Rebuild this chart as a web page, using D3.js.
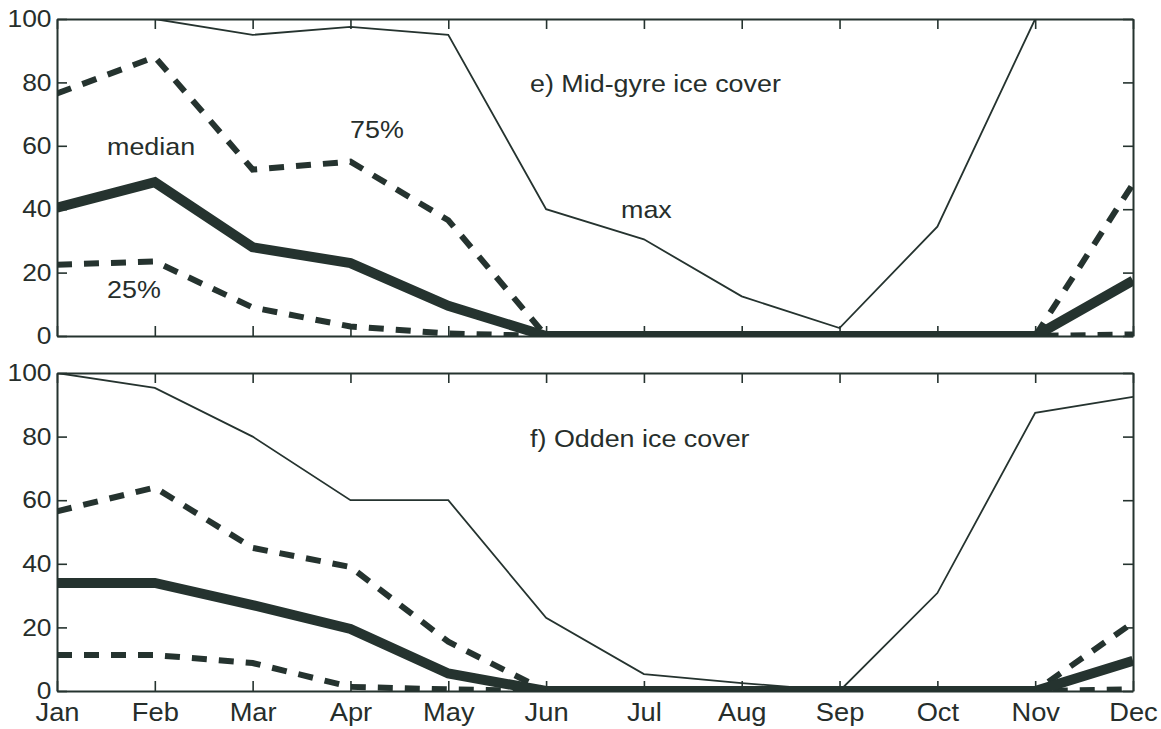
<!DOCTYPE html>
<html>
<head>
<meta charset="utf-8">
<script src="https://cdn.jsdelivr.net/npm/d3@7"></script>
<style>
  html, body { margin: 0; padding: 0; background: #fff; }
  svg { display: block; }
  text { font-family: "Liberation Sans", Arial, Helvetica, sans-serif; fill: #262e2b; }
</style>
</head>
<body>
<svg id="chart" width="1161" height="729"></svg>
<script>
// Month categories along the x axis
const months = ["Jan", "Feb", "Mar", "Apr", "May", "Jun", "Jul", "Aug", "Sep", "Oct", "Nov", "Dec"];
const yTicks = [0, 20, 40, 60, 80, 100];

// e) Mid-gyre ice cover (%)
const midGyreMax    = [100, 100, 95, 97.5, 95, 40, 30.5, 12.5, 2.5, 34.5, 100, 100];
const midGyreP75    = [76.5, 88, 52.5, 55, 36.5, 0, 0, 0, 0, 0, 0, 48];
const midGyreMedian = [40.5, 48.5, 28, 23, 9.5, 0, 0, 0, 0, 0, 0, 17.5];
const midGyreP25    = [22.5, 23.5, 9, 3, 0.8, 0, 0, 0, 0, 0, 0, 0.5];

// f) Odden ice cover (%)
const oddenMax    = [100, 95.3, 80, 60, 60, 23, 5.3, 2.5, 0, 30.8, 87.5, 92.5];
const oddenP75    = [56.5, 64, 45, 39, 15.5, 0, 0, 0, 0, 0, 0, 21.5];
const oddenMedian = [34, 34, 27, 19.5, 5.5, 0, 0, 0, 0, 0, 0, 9.5];
const oddenP25    = [11.3, 11.3, 8.8, 1.3, 0.5, 0, 0, 0, 0, 0, 0, 0.5];

const ink = "#25332f";
const svg = d3.select("#chart");
svg.append("rect").attr("width", 1161).attr("height", 729).attr("fill", "#fff");

const x = d3.scalePoint().domain(months).range([57, 1133]);

function panel(id, top, bottom, series, title, notes, showMonths) {
  const y = d3.scaleLinear().domain([0, 100]).range([bottom, top]);
  const g = svg.append("g");

  g.append("clipPath").attr("id", id)
    .append("rect")
    .attr("x", x.range()[0]).attr("y", top)
    .attr("width", x.range()[1] - x.range()[0]).attr("height", bottom - top);

  const plot = g.append("g").attr("clip-path", `url(#${id})`);
  const line = d3.line().x((d, i) => x(months[i])).y(d => y(d));

  series.forEach(s => {
    plot.append("path")
      .datum(s.values)
      .attr("d", line)
      .attr("fill", "none")
      .attr("stroke", ink)
      .attr("stroke-width", s.width)
      .attr("stroke-dasharray", s.dash || null)
      .attr("stroke-linejoin", "miter");
  });

  // Frame and inward ticks on all four sides
  const left = d3.axisLeft(y).tickValues(yTicks).tickSize(-10).tickPadding(5).tickSizeOuter(0);
  const right = d3.axisRight(y).tickValues(yTicks).tickSize(-10).tickFormat("").tickSizeOuter(0);
  const topAx = d3.axisTop(x).tickSize(-10).tickFormat("").tickSizeOuter(0);
  const botAx = d3.axisBottom(x).tickSize(-10).tickPadding(12).tickSizeOuter(0);
  if (!showMonths) botAx.tickFormat("");

  const styleAxis = sel => {
    sel.selectAll("path.domain").attr("stroke", ink).attr("stroke-width", 2);
    sel.selectAll(".tick line").attr("stroke", ink).attr("stroke-width", 1.6);
    sel.attr("font-family", null).attr("font-size", null);
  };

  const gl = g.append("g").attr("transform", `translate(${x.range()[0]},0)`).call(left).call(styleAxis);
  gl.selectAll(".tick text")
    .attr("font-size", 24)
    .attr("fill", "#262e2b")
    .attr("transform", "scale(1.1,1)");

  g.append("g").attr("transform", `translate(${x.range()[1]},0)`).call(right).call(styleAxis);
  g.append("g").attr("transform", `translate(0,${top})`).call(topAx).call(styleAxis);
  const gb = g.append("g").attr("transform", `translate(0,${bottom})`).call(botAx).call(styleAxis);
  gb.selectAll(".tick text")
    .attr("font-size", 26)
    .attr("fill", "#262e2b")
    .attr("transform", "scale(1.05,1)");

  // Panel title and line labels
  const label = (t, px, py) => g.append("text")
    .attr("transform", `translate(${px},${py}) scale(1.12,1)`)
    .attr("font-size", 24)
    .text(t);
  label(title.text, title.x, title.y);
  notes.forEach(n => label(n.text, n.x, n.y));
}

panel("clipTop", 19, 336, [
  { values: midGyreMax, width: 1.8 },
  { values: midGyreP75, width: 6, dash: "15,12" },
  { values: midGyreP25, width: 6, dash: "15,12" },
  { values: midGyreMedian, width: 10 }
], { text: "e) Mid-gyre ice cover", x: 530, y: 92 }, [
  { text: "median", x: 107, y: 155 },
  { text: "75%", x: 350, y: 138 },
  { text: "25%", x: 107, y: 298 },
  { text: "max", x: 621, y: 218 }
], false);

panel("clipBottom", 373, 691, [
  { values: oddenMax, width: 1.8 },
  { values: oddenP75, width: 6, dash: "15,12" },
  { values: oddenP25, width: 6, dash: "15,12" },
  { values: oddenMedian, width: 10 }
], { text: "f) Odden ice cover", x: 530, y: 447 }, [], true);
</script>
</body>
</html>
